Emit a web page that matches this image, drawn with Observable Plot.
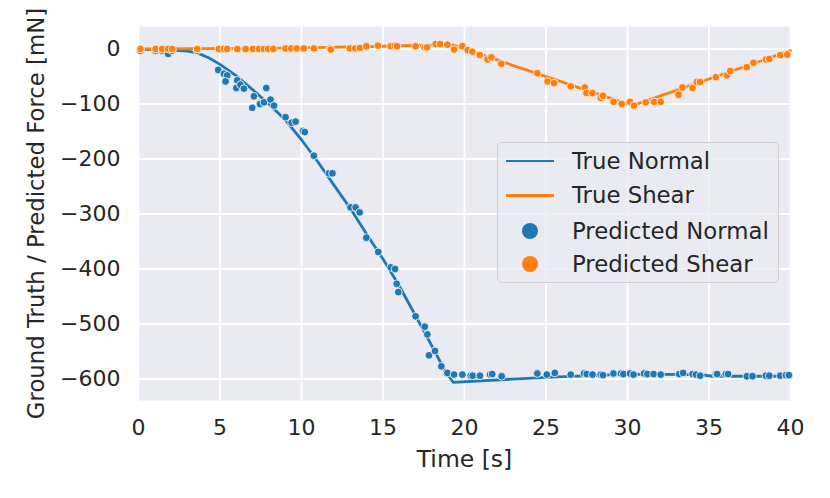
<!DOCTYPE html>
<html>
<head>
<meta charset="utf-8">
<script src="https://cdn.jsdelivr.net/npm/d3@7"></script>
<script src="https://cdn.jsdelivr.net/npm/@observablehq/plot@0.6"></script>
<style>
  html, body { margin: 0; padding: 0; background: white; }
  #wrap { position: relative; width: 830px; height: 498px; }
  #wrap svg { display: block; }
  #legend {
    position: absolute; left: 497px; top: 142px; width: 282px; height: 141px;
    box-sizing: border-box; border: 1.3px solid #d0d0d4; border-radius: 5px;
    background: rgba(234,234,242,0.8);
    font-family: "DejaVu Sans"; font-size: 22.8px; color: #262626;
  }
  .row { position: absolute; left: 0; height: 0; }
  .sw-line { position: absolute; left: 8px; width: 48px; height: 2.8px; top: -1.4px; }
  .sw-dot { position: absolute; left: 24px; width: 16px; height: 16px; top: -8px; border-radius: 50%; }
  .lab { position: absolute; left: 74px; top: -13px; white-space: nowrap; line-height: 26px; }
</style>
</head>
<body>
<div id="wrap"></div>
<script>
// ---- data ----
const xTicks = [0, 5, 10, 15, 20, 25, 30, 35, 40];
const yTicks = [0, -100, -200, -300, -400, -500, -600];

const trueNormalT = [0, 1, 2, 3, 3.6, 4.3, 5, 6, 7, 8, 9, 10, 11, 12, 13, 14, 15, 16, 17, 18, 18.8, 19.3, 25, 30, 34.5, 35.2, 40];
const trueNormalV = [-1, -1, -2, -4, -7, -16, -28, -49, -74, -100, -129, -165, -205, -248, -290, -337, -382, -431, -485, -540, -585, -606, -597, -591, -592, -595, -595];

const trueShearT = [0, 4, 10, 15, 18.9, 19.3, 30.3, 40];
const trueShearV = [0, 0.5, 2, 5, 8, 7, -103, -3];

const predNormalT = [0.12, 1.04, 1.45, 1.82, 2.07, 3.6,
  4.89, 5.24, 5.44, 5.34, 6.06, 6.0, 6.26, 6.47, 7.08, 6.98, 7.45, 7.7, 7.84, 8.1, 8.31, 9.02, 9.39, 9.64, 10.09, 10.2,
  10.76, 11.68, 11.9, 13.01, 13.32, 13.57, 13.98, 14.71, 15.47, 15.74, 15.84, 15.94, 17.0, 17.56, 17.72, 17.82, 18.19, 18.58, 18.95, 19.36,
  19.87, 20.38, 20.5, 20.95, 21.57, 21.7, 22.28, 24.47, 25.05, 25.54, 26.52, 27.34, 27.5, 27.85, 28.36, 28.5, 29.14, 29.6, 29.75,
  30.16, 30.37, 31.02, 31.22, 31.6, 32.04, 33.17, 33.41, 33.99, 34.2, 34.46, 35.42, 35.5, 36.03, 36.17, 37.32, 37.67, 38.49, 38.7,
  39.37, 39.72, 39.9];
const predNormalV = [-3, -3, -3, -9, -3, -3,
  -38, -45, -48, -59, -57, -71, -65, -72, -86, -107, -100, -97, -71, -92, -103, -124, -134, -132, -149, -151,
  -194, -226, -226, -288, -288, -297, -343, -369, -397, -400, -427, -442, -486, -505, -519, -557, -549, -577, -589, -592,
  -592, -594, -594, -594, -592, -591, -595, -590, -592, -589, -592, -590, -591, -592, -592, -593, -590, -590, -591,
  -590, -592, -590, -591, -591, -592, -591, -589, -591, -592, -594, -591, -591, -591, -591, -595, -595, -594, -594,
  -594, -593, -593];

const predShearT = [0.12, 1.04, 1.45, 1.82, 2.07, 3.6,
  4.93, 5.24, 5.44, 6.06, 6.57, 7.02, 7.39, 7.7, 7.96, 8.27, 9.02, 9.37, 9.7, 10.15, 10.76, 11.74, 11.8, 12.97, 13.3, 13.59,
  13.98, 14.69, 15.47, 15.74, 15.86, 17.0, 17.56, 17.7, 18.23, 18.5, 18.95, 19.36, 19.87, 20.2, 20.48, 20.93, 21.4, 21.65, 22.26,
  24.47, 25.09, 25.5, 26.52, 27.38, 27.48, 27.85, 28.36, 28.5, 29.14, 29.65, 30.16, 30.4, 31.12, 31.63, 32.04,
  33.13, 33.37, 33.99, 34.25, 34.45, 35.42, 36.1, 36.3, 37.32, 37.73, 38.49, 38.7, 39.37, 39.8];
const predShearV = [0, 0, 0, 0, 0, 0,
  0, 0, 0, 0, 0, 0, 0, 0, 0, 0, 1, 1, 1, 1, 1, 1, -1, 1, 1, 2,
  5, 6, 5, 6, 5, 5, 3, 3, 9, 9, 8, -1, 5, -2, -5, -11, -19, -15, -27,
  -44, -59, -62, -68, -70, -80, -80, -89, -85, -96, -100, -96, -103, -97, -96, -96,
  -83, -70, -71, -60, -60, -51, -48, -40, -33, -25, -19, -18, -11, -10];

const seriesNames = ["True Normal", "True Shear", "Predicted Normal", "Predicted Shear"];
const blue = "#1f77b4", orange = "#ff7f0e";

// ---- build tables ----
const zip = (T, V) => T.map((t, i) => ({t, v: V[i]}));
const tn = zip(trueNormalT, trueNormalV);
const ts = zip(trueShearT, trueShearV);
const pn = zip(predNormalT, predNormalV);
const ps = zip(predShearT, predShearV);

const fmt = d => d < 0 ? "\u2212" + Math.abs(d) : String(d);

const chart = Plot.plot({
  width: 830, height: 498,
  marginLeft: 138, marginRight: 40, marginTop: 26, marginBottom: 98,
  x: {domain: [0, 40]},
  y: {domain: [-639.1, 40.9]},
  style: {fontFamily: "DejaVu Sans", color: "#262626", background: "white", overflow: "visible"},
  marks: [
    Plot.frame({fill: "#EAEAF2", stroke: "none"}),
    Plot.gridX(xTicks, {stroke: "white", strokeOpacity: 1, strokeWidth: 1.8}),
    Plot.gridY(yTicks, {stroke: "white", strokeOpacity: 1, strokeWidth: 1.8}),
    Plot.axisX(xTicks, {tickSize: 0, tickPadding: 19, fontSize: 22, label: null, tickFormat: fmt}),
    Plot.axisY(yTicks, {tickSize: 0, tickPadding: 18, fontSize: 22, label: null, tickFormat: fmt}),
    Plot.text(["Time [s]"], {frameAnchor: "bottom", dy: 59, fontSize: 23.5, lineAnchor: "middle", textAnchor: "middle"}),
    Plot.text(["Ground Truth / Predicted Force [mN]"], {frameAnchor: "left", dx: -102, rotate: -90, fontSize: 22.8, lineAnchor: "middle", textAnchor: "middle"}),
    Plot.line(tn, {x: "t", y: "v", stroke: blue, strokeWidth: 2.8}),
    Plot.line(ts, {x: "t", y: "v", stroke: orange, strokeWidth: 2.8}),
    Plot.dot(pn, {x: "t", y: "v", r: 3.9, fill: blue, stroke: "white", strokeWidth: 0.8}),
    Plot.dot(ps, {x: "t", y: "v", r: 3.9, fill: orange, stroke: "white", strokeWidth: 0.8})
  ]
});
const wrap = document.getElementById("wrap");
wrap.appendChild(chart);

// ---- legend ----
const leg = document.createElement("div");
leg.id = "legend";
const rowY = [18, 52.3, 88, 121.3];
const kinds = ["line", "line", "dot", "dot"];
const cols = [blue, orange, blue, orange];
seriesNames.forEach((name, i) => {
  const row = document.createElement("div");
  row.className = "row";
  row.style.top = rowY[i] + "px";
  const sw = document.createElement("div");
  sw.className = kinds[i] === "line" ? "sw-line" : "sw-dot";
  sw.style.background = cols[i];
  const lab = document.createElement("div");
  lab.className = "lab";
  lab.textContent = name;
  row.appendChild(sw);
  row.appendChild(lab);
  leg.appendChild(row);
});
wrap.appendChild(leg);
</script>
</body>
</html>
